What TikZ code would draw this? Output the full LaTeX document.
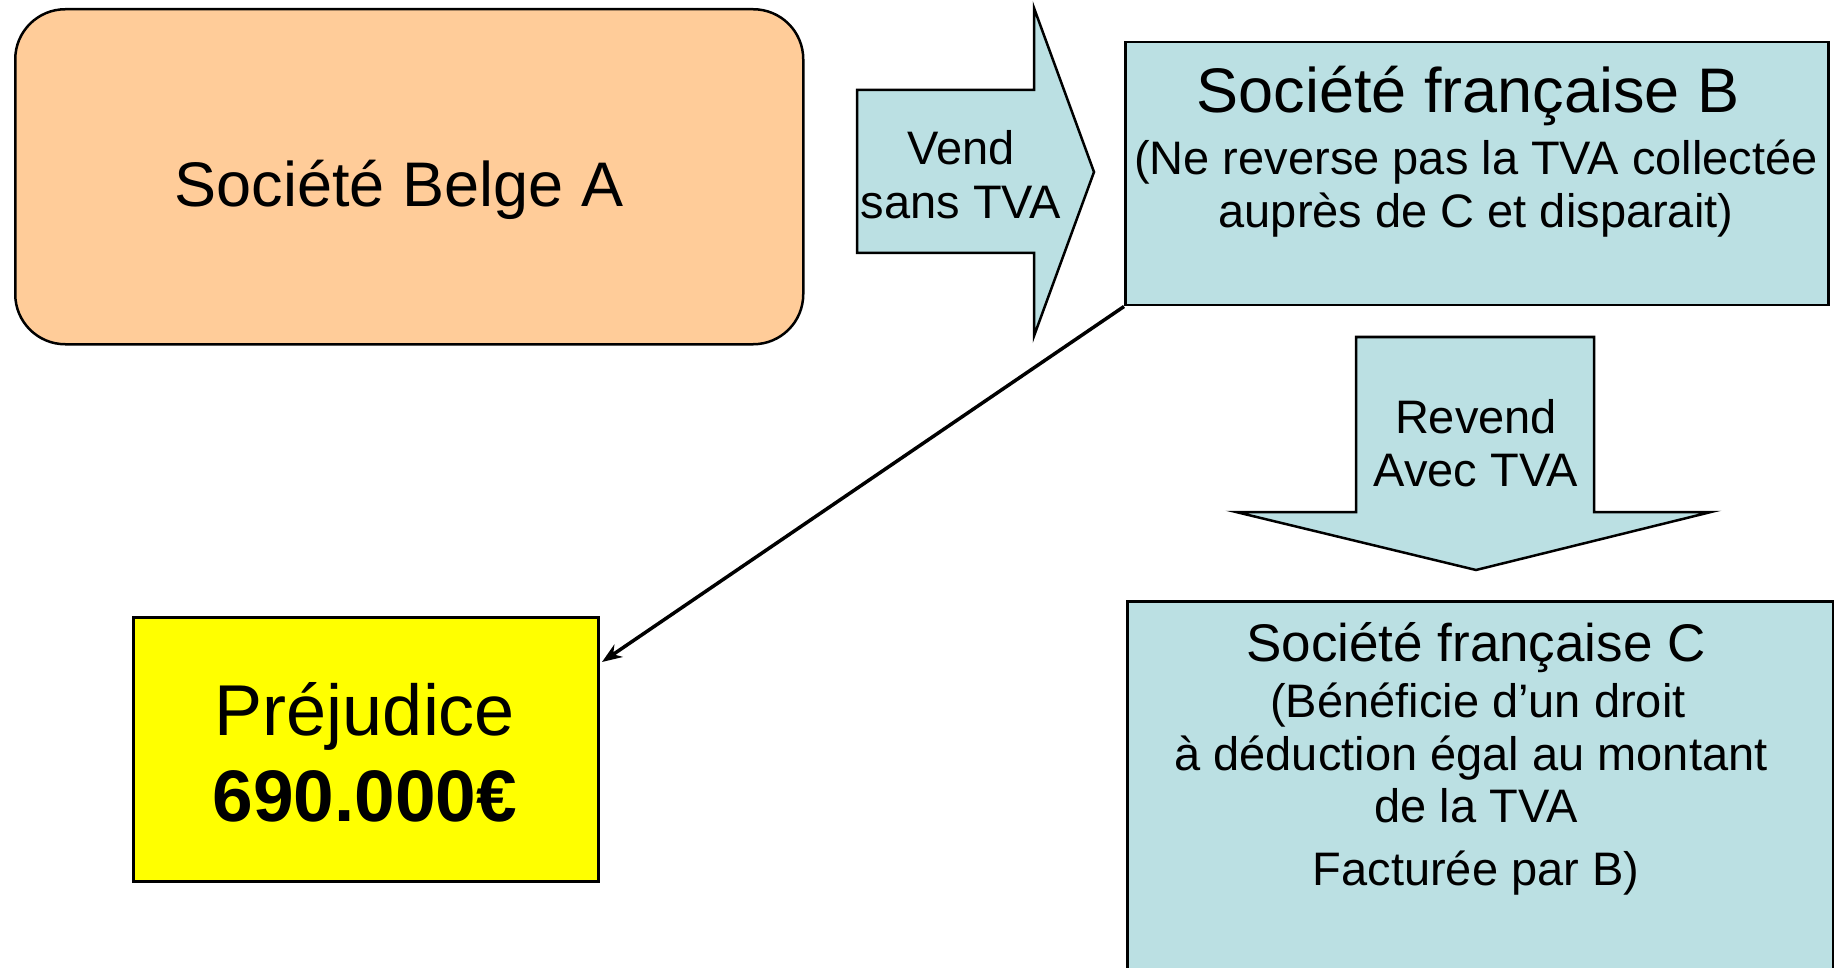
\documentclass[tikz,border=0pt]{standalone}
\usepackage{fontspec}
\setmainfont{Liberation Sans}
\usetikzlibrary{arrows.meta}
\definecolor{peach}{HTML}{FFCC99}
\definecolor{lblue}{HTML}{BBE0E3}
\definecolor{yel}{HTML}{FFFF00}
\begin{document}
\begin{tikzpicture}[x=1pt,y=-1pt]
\tikzset{
  box/.style={draw=black, line width=2.5pt, inner sep=0pt, anchor=north west},
  blockarrow/.style={draw=black, line width=2.5pt, fill=lblue, line join=miter},
  txt/.style={inner sep=0pt, anchor=base},
  big/.style={txt, font=\fontsize{63}{75}\selectfont},
  mid/.style={txt, font=\fontsize{47}{56}\selectfont},
  ctitle/.style={txt, font=\fontsize{53}{63}\selectfont},
  prej/.style={txt, font=\fontsize{72}{86}\selectfont},
}
\useasboundingbox (0,0) rectangle (1834,968);
\clip (0,0) rectangle (1834,968);

% boxes
\node[box, fill=peach, rounded corners=50pt, minimum width=788pt, minimum height=335pt] (A) at (14,8) {};
\node[box, fill=lblue, minimum width=703pt, minimum height=263pt] (B) at (1124,41) {};
\node[box, fill=lblue, minimum width=706pt, minimum height=420pt] (C) at (1126,600) {};
\node[box, fill=yel, minimum width=465pt, minimum height=264pt] (P) at (132,616) {};

% block arrows
\draw[blockarrow] (857,90) -- (1034,90) -- (1034,8) -- (1094,172) -- (1034,336) -- (1034,253) -- (857,253) -- cycle;
\draw[blockarrow] (1356,337) -- (1594,337) -- (1594,512) -- (1711,512) -- (1476,570) -- (1236,512) -- (1356,512) -- cycle;

% texts
\node[big] (At) at (399,207) {Société Belge A};
\node[mid] (V1) at (961,165) {Vend};
\node[mid] (V2) at (961,219) {sans TVA};
\node[big] (Bt) at (1468,113) {Société française B};
\node[mid] (B1) at (1476,175) {(Ne reverse pas la TVA collectée};
\node[mid] (B2) at (1476,228) {auprès de C et disparait)};
\node[mid] (R1) at (1476,433) {Revend};
\node[mid] (R2) at (1476,486) {Avec TVA};
\node[ctitle] (Ct) at (1476,661) {Société française C};
\node[mid] (C1) at (1478,717) {(Bénéficie d’un droit};
\node[mid] (C2) at (1471,770) {à déduction égal au montant};
\node[mid] (C3) at (1476,822) {de la TVA};
\node[mid] (C4) at (1476,885) {Facturée par B)};
\node[prej] (P1) at (365,735) {Préjudice};
\node[prej, font=\fontsize{73}{86}\selectfont\bfseries] (P2) at (365,821) {690.000€};

% connector
\coordinate (ptip) at (602,662);
\draw[line width=3.5pt, -{Stealth[length=20pt,width=15pt]}] (B.south west) -- (ptip);
\end{tikzpicture}
\end{document}
